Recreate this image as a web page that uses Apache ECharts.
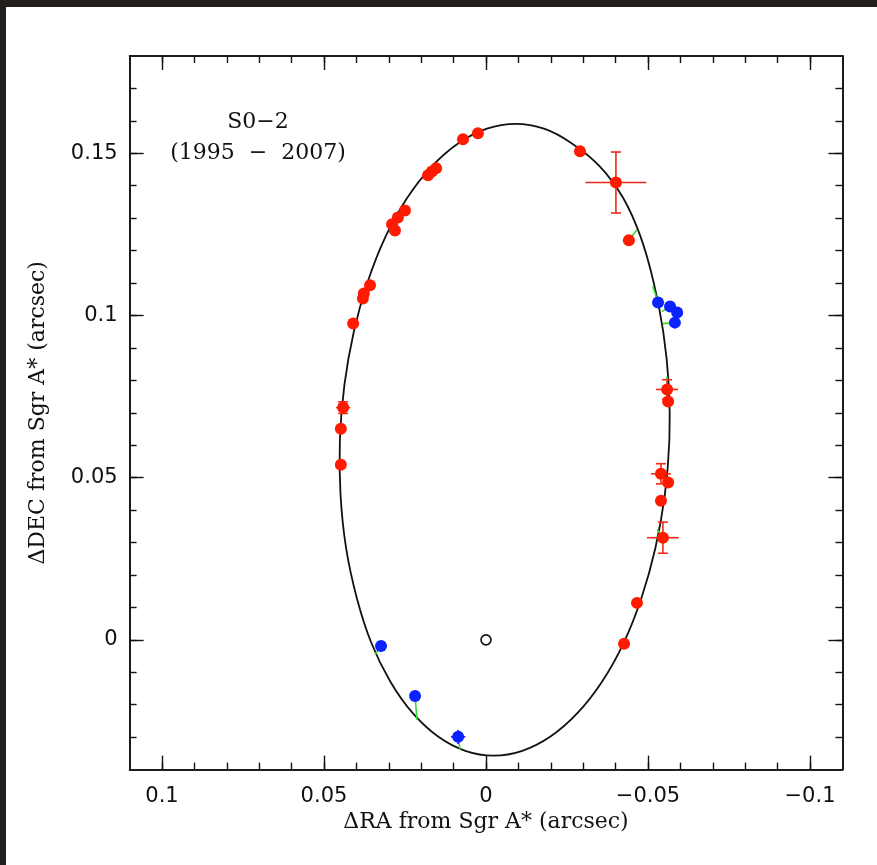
<!DOCTYPE html>
<html>
<head>
<meta charset="utf-8">
<script src="https://cdn.jsdelivr.net/npm/echarts@6/dist/echarts.min.js"></script>
<style>
html,body{margin:0;padding:0;background:#221e1b;}
#c{width:877px;height:865px;}
</style>
</head>
<body>
<div id="c"></div>
<script>
// ---- Red points (Keck) : RA offset, DEC offset (arcsec)
const redRA  = [0.0025, 0.0071, -0.0290, -0.0401, -0.0441, 0.0179, 0.0167, 0.0154, 0.0250, 0.0272, 0.0290, 0.0281, 0.0358, 0.0377, 0.0380, 0.0410, 0.0441, 0.0448, 0.0448, -0.0559, -0.0562, -0.0540, -0.0562, -0.0540, -0.0546, -0.0466, -0.0426];
const redDEC = [0.1562, 0.1543, 0.1506, 0.1410, 0.1232, 0.1432, 0.1444, 0.1454, 0.1324, 0.1302, 0.1281, 0.1262, 0.1093, 0.1068, 0.1052, 0.0975, 0.0716, 0.0651, 0.0540, 0.0772, 0.0735, 0.0512, 0.0485, 0.0429, 0.0315, 0.0114, -0.0012];
// error bars of red points (index into red arrays, RA error, DEC error)
const redErrIdx = [3, 16, 19, 21, 24];
const redErrRA  = [0.0094, 0.0022, 0.0034, 0.0031, 0.0049];
const redErrDEC = [0.0094, 0.0018, 0.0030, 0.0031, 0.0048];

// ---- Blue points
const blueRA  = [-0.0531, -0.0568, -0.0590, -0.0583, 0.0324, 0.0219, 0.0086];
const blueDEC = [0.1040, 0.1028, 0.1009, 0.0978, -0.0019, -0.0173, -0.0299];
const blueErrIdx = [6];
const blueErrRA  = [0.0022];
const blueErrDEC = [0.0022];

// ---- Residual segments: observed point -> model position on orbit
const resFromRA  = [-0.0531, -0.0568, -0.0583, 0.0324, 0.0219, 0.0086, -0.0441, -0.0559, -0.0546];
const resFromDEC = [0.1040, 0.1028, 0.0978, -0.0019, -0.0173, -0.0299, 0.1232, 0.0772, 0.0315];
const resToRA    = [-0.0515, -0.0543, -0.0546, 0.0343, 0.0213, 0.0080, -0.0466, -0.0559, -0.0528];
const resToDEC   = [0.1090, 0.1012, 0.0975, -0.0046, -0.0247, -0.0340, 0.1265, 0.0812, 0.0340];

// ---- Orbit (read along the drawn ellipse, closed loop)
const orbitRA  = [-0.0092, -0.0179, -0.0263, -0.0351, -0.0423, -0.0477, -0.0517, -0.0547, -0.0564, -0.0566, -0.0552, -0.0523, -0.0480, -0.0425, -0.0358, -0.0282, -0.0199, -0.0112, -0.0024, 0.0064, 0.0148, 0.0226, 0.0295, 0.0354, 0.0399, 0.0432, 0.0449, 0.0451, 0.0437, 0.0408, 0.0365, 0.0310, 0.0243, 0.0167, 0.0084, -0.0003];
const orbitDEC = [0.1591, 0.1576, 0.1532, 0.1460, 0.1363, 0.1243, 0.1104, 0.0950, 0.0786, 0.0617, 0.0448, 0.0284, 0.0130, -0.0009, -0.0129, -0.0226, -0.0298, -0.0342, -0.0357, -0.0342, -0.0298, -0.0226, -0.0129, -0.0009, 0.0130, 0.0284, 0.0448, 0.0617, 0.0786, 0.0950, 0.1104, 0.1243, 0.1363, 0.1460, 0.1532, 0.1576];

// ---- Sgr A* position
const sgrRA = [0];
const sgrDEC = [0];

// ---- Axis ranges and ticks
const raMin = -0.11, raMax = 0.11;
const decMin = -0.04, decMax = 0.18;
const raMajorTicks = [-0.1, -0.05, 0, 0.05, 0.1];
const raMinorTicks = [-0.1, -0.09, -0.08, -0.07, -0.06, -0.05, -0.04, -0.03, -0.02, -0.01, 0, 0.01, 0.02, 0.03, 0.04, 0.05, 0.06, 0.07, 0.08, 0.09, 0.1];
const decMajorTicks = [0, 0.05, 0.1, 0.15];
const decMinorTicks = [-0.03, -0.02, -0.01, 0, 0.01, 0.02, 0.03, 0.04, 0.05, 0.06, 0.07, 0.08, 0.09, 0.1, 0.11, 0.12, 0.13, 0.14, 0.15, 0.16, 0.17];

const xTitle = '\u0394RA from Sgr A* (arcsec)';
const yTitle = '\u0394DEC from Sgr A* (arcsec)';
const labelLine1 = 'S0\u22122';
const labelLine2 = '(1995  \u2212  2007)';

const chart = echarts.init(document.getElementById('c'));

function fmt(v) { return v < 0 ? '\u2212' + String(-v) : String(v); }

const tickFont = {fontFamily: 'DejaVu Sans', fontSize: 21, color: '#111'};
const nameFont = {fontFamily: 'DejaVu Serif', fontSize: 22, color: '#111'};

function mkAxis(kind, pos, major, withLabel, extra) {
  const isX = kind === 'x';
  const ax = {
    type: 'value',
    gridIndex: 0,
    position: pos,
    min: isX ? raMin : decMin,
    max: isX ? raMax : decMax,
    inverse: isX,
    splitLine: {show: false},
    axisLine: {show: true, onZero: false, lineStyle: {color: '#111', width: 1.6}},
    axisTick: {
      show: true, inside: true,
      length: major ? 14 : 7,
      lineStyle: {color: '#111', width: 1.4},
      customValues: isX ? (major ? raMajorTicks : raMinorTicks) : (major ? decMajorTicks : decMinorTicks)
    },
    axisLabel: withLabel ? Object.assign({
      show: true,
      customValues: isX ? raMajorTicks : decMajorTicks,
      formatter: fmt,
      margin: isX ? 16 : 12
    }, tickFont) : {show: false}
  };
  return Object.assign(ax, extra || {});
}

const xAxes = [
  mkAxis('x', 'bottom', true, true, {name: xTitle, nameLocation: 'middle', nameGap: 40, nameTextStyle: nameFont}),
  mkAxis('x', 'bottom', false, false),
  mkAxis('x', 'top', true, false),
  mkAxis('x', 'top', false, false)
];
const yAxes = [
  mkAxis('y', 'left', true, true, {name: yTitle, nameLocation: 'middle', nameGap: 80, nameTextStyle: nameFont}),
  mkAxis('y', 'left', false, false),
  mkAxis('y', 'right', true, false),
  mkAxis('y', 'right', false, false)
];

function zip(a, b) { return a.map((v, i) => [v, b[i]]); }

const redErrData = redErrIdx.map((k, i) => [redRA[k], redDEC[k], redErrRA[i], redErrDEC[i]]);
const blueErrData = blueErrIdx.map((k, i) => [blueRA[k], blueDEC[k], blueErrRA[i], blueErrDEC[i]]);

function errRender(color, withCaps) {
  return function (params, api) {
    const x = api.value(0), y = api.value(1), ex = api.value(2), ey = api.value(3);
    const l = api.coord([x + ex, y]), r = api.coord([x - ex, y]);
    const t = api.coord([x, y + ey]), b = api.coord([x, y - ey]);
    const cap = 5;
    const st = {stroke: color, lineWidth: 1.6};
    const children = [
      {type: 'line', shape: {x1: l[0], y1: l[1], x2: r[0], y2: r[1]}, style: st},
      {type: 'line', shape: {x1: t[0], y1: t[1], x2: b[0], y2: b[1]}, style: st}
    ];
    if (withCaps) {
      children.push({type: 'line', shape: {x1: t[0] - cap, y1: t[1], x2: t[0] + cap, y2: t[1]}, style: st});
      children.push({type: 'line', shape: {x1: b[0] - cap, y1: b[1], x2: b[0] + cap, y2: b[1]}, style: st});
    }
    return {type: 'group', children: children};
  };
}

const orbitPts = zip(orbitRA, orbitDEC);
function orbitRender(params, api) {
  const pts = orbitPts.map(p => api.coord(p));
  return {
    type: 'polygon',
    shape: {points: pts, smooth: 0.35},
    style: {fill: 'none', stroke: '#111', lineWidth: 1.8}
  };
}

const resData = resFromRA.map((v, i) => ({coords: [[v, resFromDEC[i]], [resToRA[i], resToDEC[i]]]}));

chart.setOption({
  backgroundColor: '#221e1b',
  animation: false,
  graphic: [
    {type: 'rect', z: -10, silent: true, shape: {x: 6, y: 7, width: 871, height: 858}, style: {fill: '#ffffff'}},
    {type: 'text', z: 10, style: {x: 258, y: 122, text: labelLine1, textAlign: 'center', textVerticalAlign: 'middle', fontFamily: 'DejaVu Serif', fontSize: 22, fill: '#111'}},
    {type: 'text', z: 10, style: {x: 258, y: 153, text: labelLine2, textAlign: 'center', textVerticalAlign: 'middle', fontFamily: 'DejaVu Serif', fontSize: 22, fill: '#111'}}
  ],
  grid: {left: 129.6, top: 56, width: 712.8, height: 713.6, containLabel: false},
  xAxis: xAxes,
  yAxis: yAxes,
  series: [
    {
      type: 'custom', name: 'orbit', xAxisIndex: 0, yAxisIndex: 0,
      data: [orbitPts[0]], encode: {x: 0, y: 1}, renderItem: orbitRender, z: 2, silent: true
    },
    {
      type: 'lines', coordinateSystem: 'cartesian2d', xAxisIndex: 0, yAxisIndex: 0,
      data: resData, lineStyle: {color: '#33dd33', width: 1.6, opacity: 1}, z: 3
    },
    {
      type: 'custom', xAxisIndex: 0, yAxisIndex: 0, renderItem: errRender('#ee2a1a', true),
      data: redErrData, encode: {x: 0, y: 1}, z: 4
    },
    {
      type: 'custom', xAxisIndex: 0, yAxisIndex: 0, renderItem: errRender('#0a22ff', false),
      data: blueErrData, encode: {x: 0, y: 1}, z: 4
    },
    {
      type: 'scatter', name: 'red', xAxisIndex: 0, yAxisIndex: 0,
      data: zip(redRA, redDEC), symbol: 'circle', symbolSize: 12,
      itemStyle: {color: '#ff1a00', opacity: 1}, z: 5
    },
    {
      type: 'scatter', name: 'blue', xAxisIndex: 0, yAxisIndex: 0,
      data: zip(blueRA, blueDEC), symbol: 'circle', symbolSize: 12,
      itemStyle: {color: '#0a22ff', opacity: 1}, z: 5
    },
    {
      type: 'scatter', name: 'Sgr A*', xAxisIndex: 0, yAxisIndex: 0,
      data: zip(sgrRA, sgrDEC), symbol: 'circle', symbolSize: 10,
      itemStyle: {color: '#ffffff', borderColor: '#111', borderWidth: 1.6, opacity: 1}, z: 5
    }
  ]
});
</script>
</body>
</html>
